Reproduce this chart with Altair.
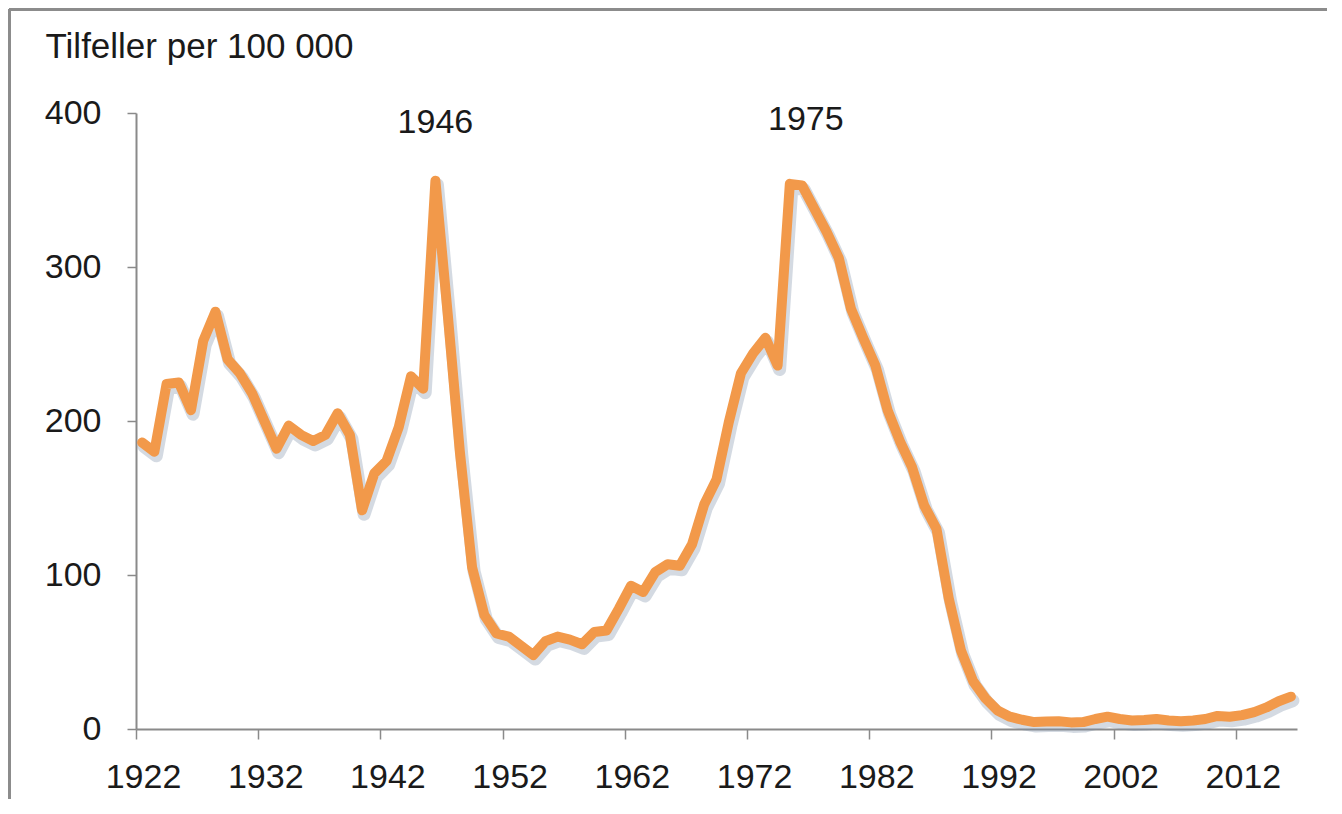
import altair as alt
import pandas as pd

# ---- data ----
years = list(range(1922, 2017))
cases = [
    186, 180, 224, 225, 207, 252, 271, 240, 231, 218,   # 1922-1931
    200, 182, 197, 191, 187, 191, 205, 191, 142, 166,   # 1932-1941
    174, 196, 229, 221, 356, 270, 180, 105, 74, 62,     # 1942-1951
    60, 54, 48, 57, 60, 58, 55, 63, 64, 78,             # 1952-1961
    93, 89, 102, 107, 106, 120, 146, 162, 199, 231,     # 1962-1971
    244, 254, 236, 354, 353, 338, 323, 306, 273, 254,   # 1972-1981
    236, 207, 187, 170, 145, 130, 85, 51, 31, 20,       # 1982-1991
    12, 8, 6, 4.5, 4.8, 5, 4.3, 4.5, 6.5, 8,            # 1992-2001
    6.5, 5.5, 5.8, 6.5, 5.5, 5, 5.5, 6.5, 8.5, 8,       # 2002-2011
    9, 11, 14, 18, 21                                   # 2012-2016
]
peak_years = [1946, 1975]
peak_labels = ["1946", "1975"]
x_tick_labels = [1922, 1932, 1942, 1952, 1962, 1972, 1982, 1992, 2002, 2012]
y_ticks = [0, 100, 200, 300, 400]
y_title = "Tilfeller per 100 000"

df = pd.DataFrame({"year": years, "cases": cases})
ann = pd.DataFrame({"year": peak_years, "label": peak_labels})

W, H = 1161, 616
FONT = "Liberation Sans"
ORANGE = "#F2994A"

x_scale = alt.Scale(domain=[years[0] - 0.5, years[-1] + 0.5], nice=False, zero=False)
y_scale = alt.Scale(domain=[0, 400], nice=False)

x_axis = alt.Axis(
    values=[v - 0.5 for v in x_tick_labels],
    labelExpr="format(datum.value + 0.5, 'd')",
    title=None, grid=False,
    domainColor="#8a8a8a", domainWidth=2,
    tickColor="#8a8a8a", tickWidth=1.5, tickSize=10,
    labelFontSize=34, labelColor="#1a1a1a", labelFont=FONT,
    labelBaseline="alphabetic", labelPadding=48, labelOffset=7,
    labelFlush=False, labelOverlap=False,
)
y_axis = alt.Axis(
    values=y_ticks, format="d", grid=False,
    title=y_title, titleAngle=0, titleAlign="left", titleBaseline="alphabetic",
    titleX=-91, titleY=-56, titleFontSize=35, titleFontWeight="normal",
    titleColor="#1a1a1a", titleFont=FONT,
    domainColor="#8a8a8a", domainWidth=2,
    tickColor="#8a8a8a", tickWidth=1.5, tickSize=9,
    labelFontSize=34, labelColor="#1a1a1a", labelFont=FONT, labelPadding=26,
)

base = alt.Chart(df)

shadow = base.mark_line(
    color="#7d8ea8", opacity=0.33, strokeWidth=13, strokeJoin="round",
    strokeCap="round", yOffset=4, xOffset=2,
).encode(
    x=alt.X("year:Q", scale=x_scale, axis=x_axis),
    y=alt.Y("cases:Q", scale=y_scale, axis=y_axis),
)

line = base.mark_line(
    color=ORANGE, strokeWidth=10, strokeJoin="round", strokeCap="round",
).encode(
    x=alt.X("year:Q", scale=x_scale),
    y=alt.Y("cases:Q", scale=y_scale),
)

ann1 = alt.Chart(ann).transform_filter(alt.datum.label == "1946").mark_text(
    fontSize=34, font=FONT, color="#1a1a1a", baseline="alphabetic", align="center",
).encode(x=alt.X("year:Q", scale=x_scale), y=alt.value(20), text="label:N")

ann2 = alt.Chart(ann).transform_filter(alt.datum.label == "1975").mark_text(
    fontSize=34, font=FONT, color="#1a1a1a", baseline="alphabetic", align="center", dx=16,
).encode(x=alt.X("year:Q", scale=x_scale), y=alt.value(17), text="label:N")

border_top = alt.Chart(df).mark_rule(color="#8c8c8c", strokeWidth=3).encode(
    x=alt.value(-127), x2=alt.value(W + 30), y=alt.value(-104)
)
border_left = alt.Chart(df).mark_rule(color="#8c8c8c", strokeWidth=3).encode(
    x=alt.value(-126.5), y=alt.value(-104), y2=alt.value(H + 70)
)

chart = alt.layer(border_top, border_left, shadow, line, ann1, ann2).properties(
    width=W, height=H,
    autosize=alt.AutoSizeParams(type="none"),
    padding={"left": 128, "top": 105, "right": 30, "bottom": 70},
    background="white",
).configure_view(stroke=None)

chart.save("out.html", embed_options={"renderer": "svg", "actions": False})
